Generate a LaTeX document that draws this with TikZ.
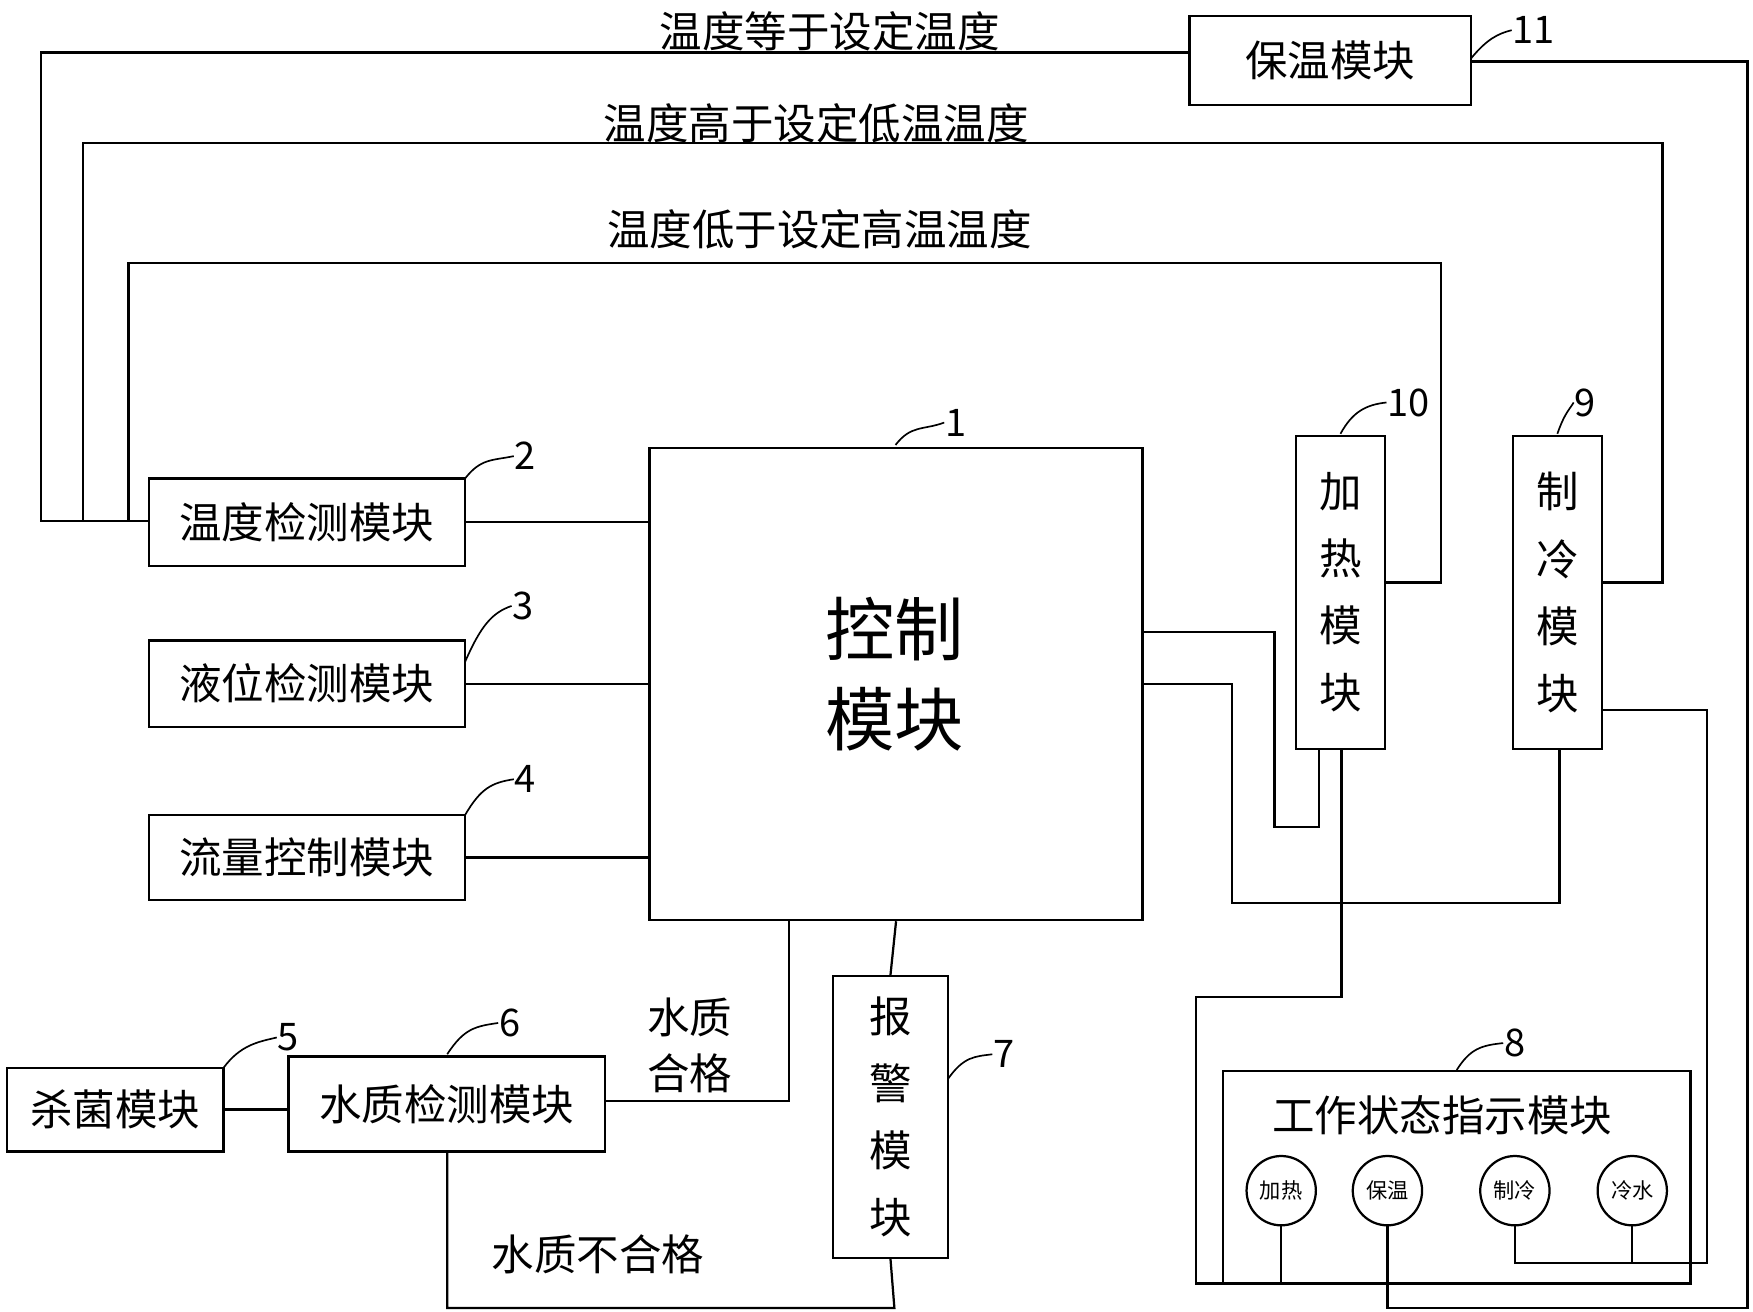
\documentclass[tikz,border=0pt]{standalone}
\usepackage{fontspec}
\setmainfont{Noto Sans CJK SC}
\newfontfamily\cjk{Noto Sans CJK SC}
\begin{document}
\begin{tikzpicture}[x=1pt,y=-1pt,line width=2pt,
 box/.style={draw,inner sep=0pt,font=\cjk\fontsize{38}{40}\selectfont},
 lab/.style={font=\cjk\fontsize{38}{40}\selectfont,inner sep=0pt},
 num/.style={font=\fontsize{34}{36}\selectfont,inner sep=0pt},
 small/.style={draw,circle,minimum size=62pt,inner sep=0pt,font=\cjk\fontsize{19}{20}\selectfont}]
\useasboundingbox (0,0) rectangle (1568,1173);
% boxes
\node[box,minimum width=441pt,minimum height=422pt] (c) at (801.5,612) {};
\node[lab,font=\cjk\fontsize{62}{80}\selectfont,align=center] (ct) at (800,603) {控制\\模块};
\node[box,minimum width=283pt,minimum height=78pt] (t) at (274.5,467) {温度检测模块};
\node[box,minimum width=283pt,minimum height=77pt] (l) at (274.5,611.5) {液位检测模块};
\node[box,minimum width=283pt,minimum height=76pt] (f) at (274.5,767) {流量控制模块};
\node[box,minimum width=194pt,minimum height=75pt] (s) at (103,992.5) {杀菌模块};
\node[box,minimum width=283pt,minimum height=85pt] (w) at (399.5,987.5) {水质检测模块};
\node[box,minimum width=103pt,minimum height=252pt,align=center,font=\cjk\fontsize{38}{60}\selectfont] (a) at (796.5,999) {报\\警\\模\\块};
\node[box,minimum width=80pt,minimum height=280pt,align=center,font=\cjk\fontsize{38}{60}\selectfont] (h) at (1199,530) {加\\热\\模\\块};
\node[box,minimum width=80pt,minimum height=280pt,align=center,font=\cjk\fontsize{38}{60}\selectfont] (r) at (1393,530) {制\\冷\\模\\块};
\node[box,minimum width=252pt,minimum height=80pt] (b) at (1190,54) {保温模块};
\node[box,minimum width=418pt,minimum height=190pt] (st) at (1303,1053) {};
\node[lab] (stt) at (1290,998) {工作状态指示模块};
\node[small] (c1) at (1146,1065) {加热};
\node[small] (c2) at (1241,1065) {保温};
\node[small] (c3) at (1355,1065) {制冷};
\node[small] (c4) at (1460,1065) {冷水};
% numbers
\node[num] (n1) at (855,378) {1};
\node[num] (n2) at (470,408) {2};
\node[num] (n3) at (468,542) {3};
\node[num] (n4) at (470,697) {4};
\node[num] (n5) at (258,928) {5};
\node[num] (n6) at (456,915) {6};
\node[num] (n7) at (898,943) {7};
\node[num] (n8) at (1355,933) {8};
\node[num] (n9) at (1418,360) {9};
\node[num] (n10) at (1260,360) {10};
\node[num] (n11) at (1372,27) {11};
\begin{scope}[line width=1.5pt]
\draw (801,398) .. controls (815,380) and (825,385) .. (n1.west);
\draw (416,428) .. controls (430,410) and (440,412) .. (n2.west);
\draw (416,592) .. controls (430,560) and (440,548) .. (n3.west);
\draw (416,729) .. controls (430,705) and (440,700) .. (n4.west);
\draw (200,955) .. controls (215,935) and (230,932) .. (n5.west);
\draw (400,943) .. controls (415,920) and (425,918) .. (n6.west);
\draw (848,965) .. controls (862,945) and (872,945) .. (n7.west);
\draw (1303,957) .. controls (1315,938) and (1325,935) .. (n8.west);
\draw (1393,388) .. controls (1400,368) and (1405,365) .. (n9.west);
\draw (1199,388) .. controls (1210,368) and (1222,362) .. (n10.west);
\draw (1316,52) .. controls (1330,35) and (1340,30) .. (n11.west);
\end{scope}
% connectors
\draw (t.east) -- (t.east -| c.west);
\draw (l.east) -- (l.east -| c.west);
\draw (f.east) -- (f.east -| c.west);
\draw (s.east) -- (s.east -| w.west);
\coordinate (wq) at (706,985);
\draw (w.east |- wq) -- (wq) -- (wq |- c.south);
\node[lab,align=center,font=\cjk\fontsize{38}{50}\selectfont] (wql) at (617,935) {水质\\合格};
\draw (400,1030) -- (400,1170) -- (800,1170) -- (a.south);
\node[lab] (wbl) at (535,1122) {水质不合格};
\draw (c.south) -- (a.north);
\draw (133,466) -- (37,466) -- (37,47) -- (b.west |- 0,47);
\node[lab] (L1) at (742,28) {温度等于设定温度};
\draw (74,466) -- (74,128) -- (1487,128) -- (1487,521) -- (r.east |- 0,521);
\node[lab] (L2) at (730,110) {温度高于设定低温温度};
\draw (115,466) -- (115,235) -- (1289,235) -- (1289,521) -- (h.east |- 0,521);
\node[lab] (L3) at (733,205) {温度低于设定高温温度};
\draw (b.east |- 0,55) -- (1563,55) -- (1563,1170) -- (1241,1170) -- (c2.south);
\draw (1022,565) -- (1140,565) -- (1140,740) -- (1180,740) -- (1180,670);
\draw (1022,612) -- (1102,612) -- (1102,808) -- (1395,808) -- (1395,670);
\draw (1200,670) -- (1200,892) -- (1070,892) -- (1070,1148) -- (1146,1148) -- (c1.south);
\draw (c3.south) -- (1355,1130) -- (1527,1130) -- (1527,635) -- (1433,635);
\draw (c4.south) -- (1460,1130);
\end{tikzpicture}
\end{document}
